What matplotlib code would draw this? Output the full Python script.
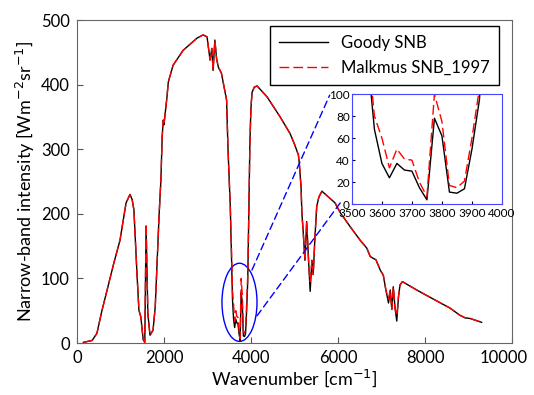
import matplotlib
matplotlib.use("Agg")
import matplotlib.pyplot as plt
from matplotlib.patches import Ellipse, ConnectionPatch
from matplotlib.transforms import ScaledTranslation

plt.rcParams["font.family"] = ["Lato", "DejaVu Sans"]

# narrow-band intensity (Wm^-2 sr^-1)
wavenumber = [150, 350, 460, 575, 735, 850, 990, 1130, 1220, 1270, 1310, 1380, 1425,
              1470, 1500, 1525, 1560, 1590, 1630, 1680, 1750, 1800, 1890, 1930, 1960,
              1985, 2000, 2070, 2100, 2210, 2440, 2760, 2900, 2990, 3060, 3100, 3130,
              3170, 3210, 3250, 3320, 3440, 3470, 3525, 3550, 3575, 3600, 3625, 3650,
              3675, 3700, 3725, 3750, 3775, 3800, 3825, 3850, 3875, 3900, 3925, 3950,
              3975, 4000, 4025, 4075, 4140, 4370, 4670, 4900, 5010, 5090, 5110, 5150,
              5170, 5200, 5240, 5280, 5330, 5360, 5400, 5430, 5470, 5510, 5560, 5630,
              5930, 6050, 6280, 6510, 6660, 6740, 6810, 6870, 6970, 7040, 7100, 7160,
              7200, 7235, 7270, 7310, 7350, 7390, 7425, 7480, 7810, 8190, 8575, 8800,
              8920, 9035, 9300]
goody = [1, 4, 15, 50, 93, 124, 159, 217, 230, 222, 206, 108, 51,
         40, 20, 5, 1, 180, 46, 12, 20, 56, 200, 252, 320,
         345, 338, 381, 404, 430, 453, 472, 477, 474, 438, 456, 422,
         469, 440, 427, 418, 376, 304, 210, 140, 68, 37, 24, 37,
         31, 30, 15, 4, 78, 62, 11, 10, 14, 50, 95, 200,
         310, 365, 388, 396, 398, 381, 350, 324, 306, 291, 278, 242,
         201, 172, 128, 188, 118, 80, 128, 106, 164, 211, 226, 235,
         217, 202, 180, 159, 147, 134, 131, 129, 113, 105, 82, 62,
         82, 52, 87, 54, 34, 72, 90, 95, 82, 68, 54, 43,
         39, 38, 32]
malkmus = [1, 4, 15, 50, 93, 124, 159, 217, 230, 222, 206, 108, 51,
           40, 20, 5, 1, 185, 46, 12, 20, 56, 200, 252, 320,
           345, 338, 381, 404, 430, 453, 472, 477, 474, 438, 456, 422,
           469, 440, 427, 418, 376, 304, 210, 150, 80, 60, 33, 50,
           41, 40, 20, 7, 100, 75, 17, 15, 21, 60, 105, 200,
           310, 365, 388, 396, 398, 381, 350, 324, 306, 291, 278, 242,
           201, 172, 128, 188, 118, 95, 128, 106, 164, 211, 226, 235,
           217, 202, 180, 159, 147, 134, 131, 129, 113, 105, 82, 68,
           82, 52, 87, 54, 42, 72, 90, 95, 82, 68, 54, 43,
           39, 38, 32]

x_ticks = [0, 2000, 4000, 6000, 8000, 10000]
y_ticks = [0, 100, 200, 300, 400, 500]
inset_x_ticks = [3500, 3600, 3700, 3800, 3900, 4000]
inset_y_ticks = [0, 20, 40, 60, 80, 100]

fig = plt.figure(figsize=(5.34, 3.95), dpi=100)
ax = fig.add_axes([0.144, 0.1316, 0.815, 0.8177])

ax.plot(wavenumber, goody, color="black", lw=1.0, label="Goody SNB")
ax.plot(wavenumber, malkmus, color="red", lw=1.0, dashes=(7, 3), label="Malkmus SNB_1997")
ax.set_xlim(0, 10000)
ax.set_ylim(0, 500)
ax.set_xticks(x_ticks)
ax.set_yticks(y_ticks)
ax.tick_params(direction="in", labelsize=12, length=4, color="#555555", pad=5)
for s in ax.spines.values():
    s.set_color("#666666")
# last tick label sits a little left of its tick, as in the original
last = ax.get_xticklabels()[-1]
last.set_transform(last.get_transform() + ScaledTranslation(-6 / 72, 0, fig.dpi_scale_trans))
ax.set_xlabel("Wavenumber [cm$^{-1}$]", fontsize=13, labelpad=1)
ax.set_ylabel("Narrow-band intensity [Wm$^{-2}$sr$^{-1}$]", fontsize=13, labelpad=3)

leg = ax.legend(loc="upper right", bbox_to_anchor=(0.934, 0.934),
                bbox_transform=fig.transFigure, fontsize=12, fancybox=False,
                framealpha=1, edgecolor="black", handlelength=2.9, borderpad=0.55,
                borderaxespad=0)
leg.get_frame().set_linewidth(1.0)

# zoomed ellipse around the 2.7 um band
ell = Ellipse((3736, 63), 805, 121, fill=False, edgecolor="blue", lw=1.0)
ax.add_patch(ell)

axins = fig.add_axes([0.659, 0.483, 0.281, 0.279])
axins.plot(wavenumber, goody, color="black", lw=1.0)
axins.plot(wavenumber, malkmus, color="red", lw=1.0, dashes=(7, 3))
axins.set_xlim(3500, 4000)
axins.set_ylim(0, 100)
axins.set_xticks(inset_x_ticks)
axins.set_yticks(inset_y_ticks)
axins.tick_params(direction="in", labelsize=8.5, length=2, pad=1.5)
axins.tick_params(axis="x", pad=3)
for s in axins.spines.values():
    s.set_color("#4444ff")

for (xa, ya), (xb, yb) in [((4023, 113), (3426, 99)), ((4138, 42), (3466, 3))]:
    con = ConnectionPatch(xyA=(xa, ya), coordsA=ax.transData,
                          xyB=(xb, yb), coordsB=axins.transData,
                          color="blue", lw=1.0, linestyle=(0, (5, 3)))
    fig.add_artist(con)

fig.savefig("out.png", dpi=100)
